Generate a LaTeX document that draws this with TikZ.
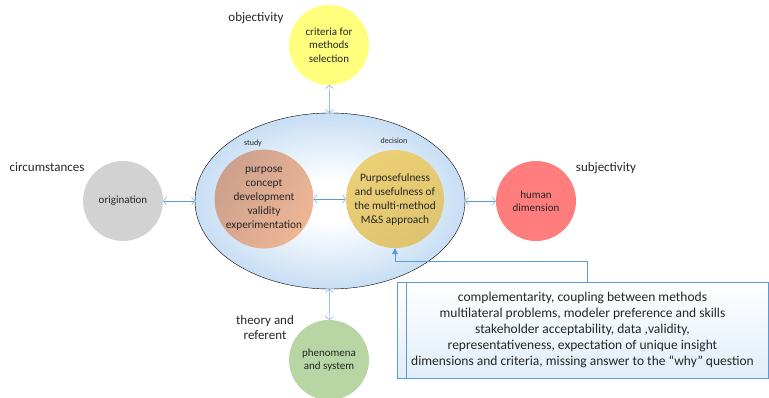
\documentclass[tikz,border=0pt]{standalone}
\usepackage{fontspec}
\setmainfont{Carlito}
\usetikzlibrary{arrows.meta, shapes.geometric}

\definecolor{link_blue}{RGB}{91,155,213}
\definecolor{glow_blue}{RGB}{155,196,236}
\definecolor{sun_yellow}{RGB}{255,255,125}
\definecolor{ash_grey}{RGB}{210,210,210}
\definecolor{rose_red}{RGB}{255,125,125}
\definecolor{sage_green}{RGB}{183,214,163}
\definecolor{study_dark}{RGB}{205,160,140}
\definecolor{study_light}{RGB}{238,182,150}
\definecolor{decision_dark}{RGB}{222,196,112}
\definecolor{decision_light}{RGB}{236,208,118}

\pgfdeclareradialshading{ellipse_glow}{\pgfpoint{0bp}{0bp}}{color(0bp)=(white); color(6bp)=(white); color(40bp)=(glow_blue); color(50bp)=(glow_blue)}

\begin{document}
\begin{tikzpicture}[ % pixel grid, y pointing down
x=1pt, y=-1pt,
outer_circle/.style={circle, minimum size=80pt, inner sep=0pt, align=center, text=black!85, font=\fontsize{11}{13.5}\selectfont},
inner_circle/.style={circle, minimum size=98pt, inner sep=0pt, align=center, text=black!85, font=\fontsize{11.3}{14}\selectfont},
side_text/.style={align=center, text=black!85, font=\fontsize{13}{15}\selectfont},
small_text/.style={text=black!85, font=\fontsize{8}{9}\selectfont},
both_arrow/.style={{Straight Barb[length=3pt,width=8pt]}-{Straight Barb[length=3pt,width=8pt]}, link_blue, thin},
feed_arrow/.style={-{Triangle[length=6pt,width=6pt]}, link_blue, thin},
info_box/.style={rectangle, draw=link_blue, thin, top color=white, bottom color=glow_blue!30, minimum width=371pt, minimum height=96pt, inner sep=2pt, align=center, text=black!85, font=\fontsize{13.5}{16}\selectfont}
]

\useasboundingbox (0,0) rectangle (769,398);

% frame
\node[ellipse, draw=black, thin, shading=ellipse_glow, minimum width=270pt, minimum height=176pt](frame) at (330,201) {};

\node[inner_circle, top color=study_dark, bottom color=study_light, shading angle=60](study) at (264,199) {purpose\\concept\\development\\validity\\experimentation};
\node[inner_circle, top color=decision_light, bottom color=decision_dark, shading angle=30](decision) at (395,199) {Purposefulness\\and usefulness of\\the multi-method\\M\&S approach};

\node[small_text](study_label) at (253,143) {study};
\node[small_text](decision_label) at (394,141) {decision};

% outer circles
\node[outer_circle, fill=sun_yellow](criteria) at (329,45) {criteria for\\methods\\selection};
\node[outer_circle, fill=ash_grey](origination) at (123,201) {origination};
\node[outer_circle, fill=rose_red](human) at (536,201) {human\\dimension};
\node[outer_circle, fill=sage_green](phenomena) at (329,360) {phenomena\\and system};

\node[side_text](objectivity) at (256,18) {objectivity};
\node[side_text](circumstances) at (47,167) {circumstances};
\node[side_text](subjectivity) at (606,168) {subjectivity};
\node[side_text](theory) at (265,328) {theory and\\referent};

% criteria box
\node[info_box](info) at (582.5,330) {complementarity, coupling between methods\\multilateral problems, modeler preference and skills\\stakeholder acceptability, data ,validity,\\representativeness, expectation of unique insight\\dimensions and criteria, missing answer to the “why” question};
\draw[link_blue, thin]([xshift=9pt]info.north west) -- ([xshift=9pt]info.south west);

% connectors
\draw[both_arrow](criteria) -- (frame);
\draw[both_arrow](origination) -- (frame);
\draw[both_arrow](frame) -- (human);
\draw[both_arrow](frame) -- (phenomena);
\draw[both_arrow](study) -- (decision);

\coordinate (tap) at ([xshift=5pt]info.north);
\draw[feed_arrow](tap) -- ++(0,-21) -| (decision.south);
\end{tikzpicture}
\end{document}
